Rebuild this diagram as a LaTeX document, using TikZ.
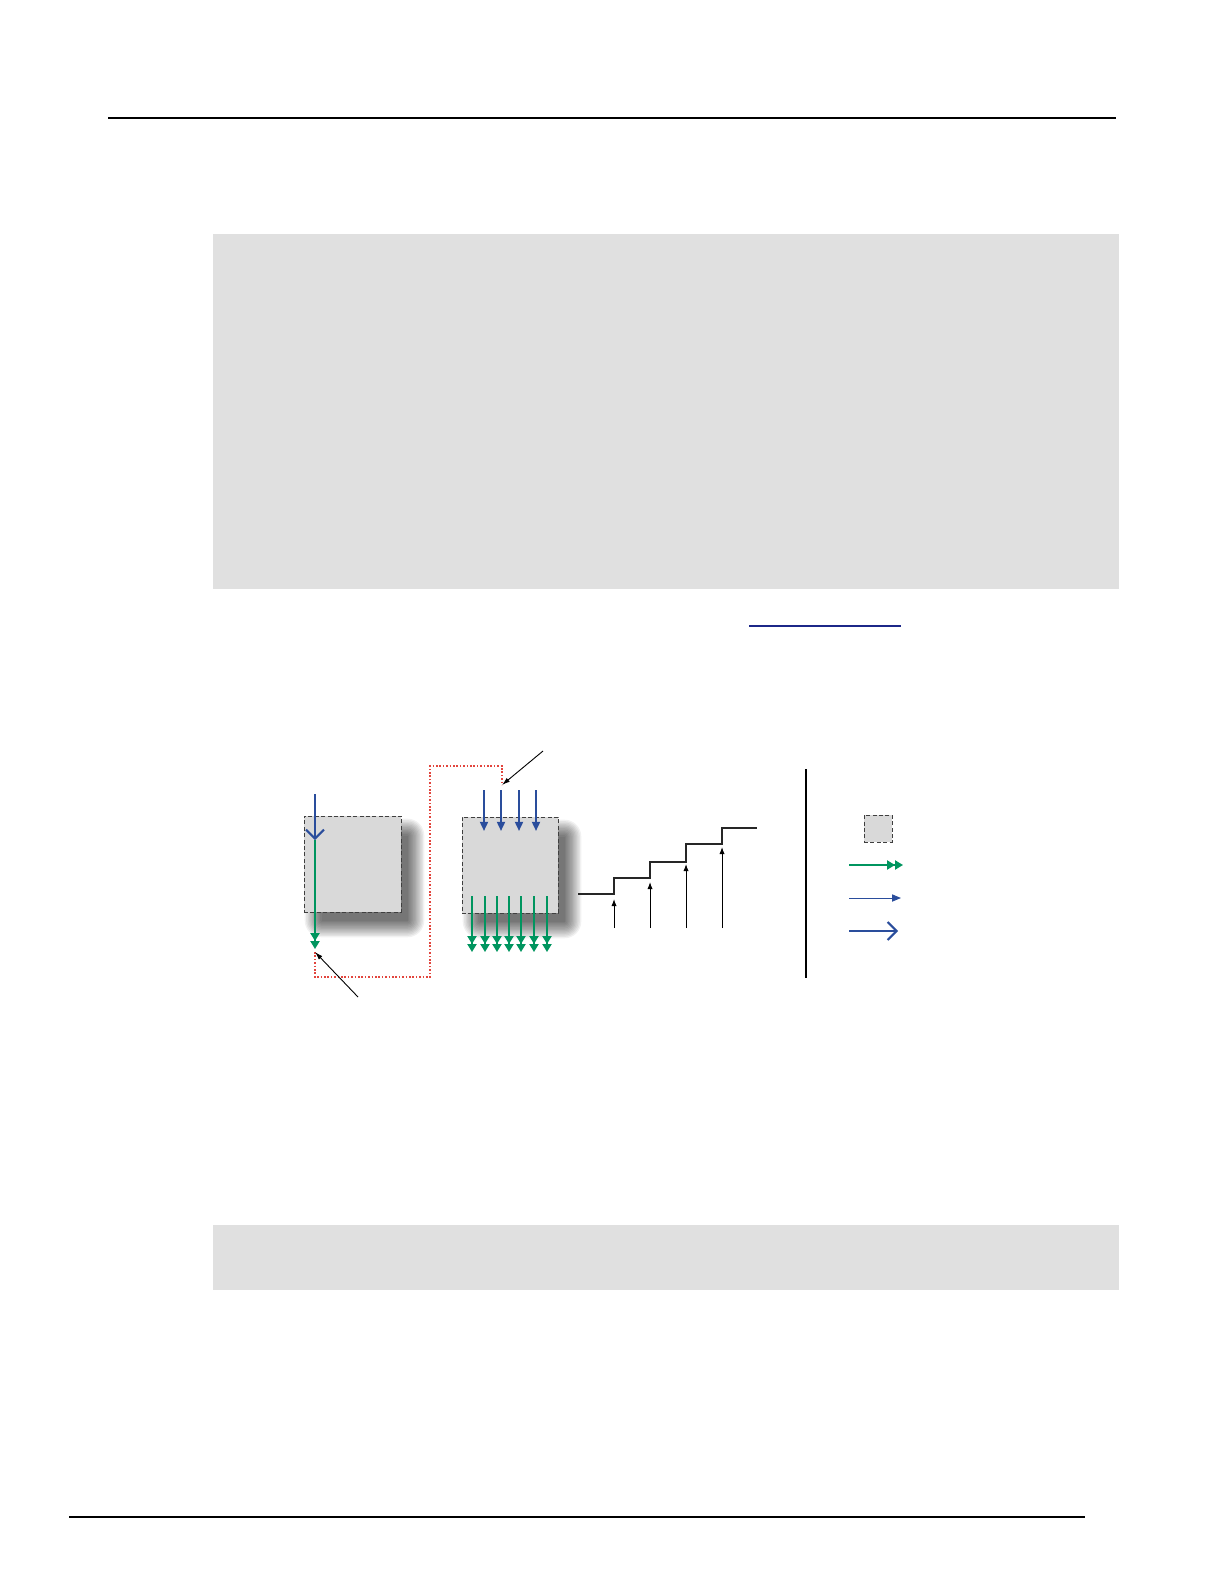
\documentclass[tikz,border=0pt]{standalone}
\usetikzlibrary{arrows.meta, positioning, calc, backgrounds}
\usepackage{xcolor}
\definecolor{blueC}{HTML}{2A4D9C}
\definecolor{greenC}{HTML}{00955F}
\definecolor{redC}{HTML}{E2453D}
\definecolor{grayC}{HTML}{3F3F3F}
\definecolor{panelC}{HTML}{E0E0E0}
\definecolor{boxC}{HTML}{D9D9D9}
\definecolor{linkC}{HTML}{1C2788}
\tikzset{
  blk/.style={rectangle, draw=grayC, dash pattern=on 2pt off 1.2pt, fill=boxC, line width=0.5pt, inner sep=0pt},
  shd/.style={fill=black, opacity=0.055},
  arwIn/.style={-{Triangle[length=4.6pt, width=4pt]}, line width=1pt, draw=blueC},
  arwOpen/.style={-{Straight Barb[length=4.5pt, width=9pt, line width=1pt]}, line width=1pt, draw=blueC},
  arwOut/.style={-{Triangle[length=4pt, width=4.6pt] Triangle[length=4pt, width=4.6pt]}, line width=0.8pt, draw=greenC},
  arwThin/.style={-{Triangle[length=4.5pt, width=3.6pt]}, line width=0.5pt, draw=blueC},
  arwTick/.style={-{Latex[length=3.5pt, width=2.6pt]}, line width=0.5pt, draw=black},
  lead/.style={-{Latex[length=4pt, width=2.4pt]}, line width=0.45pt, draw=black},
  lnk/.style={draw=redC, line width=0.85pt, dash pattern=on 0.8pt off 0.9pt},
  stair/.style={draw=black!85, line width=0.55pt},
  panel/.style={fill=panelC, draw=none}
}

\begin{document}
\begin{tikzpicture}[x=0.5pt, y=-0.5pt]
  % ── Page ──
  \useasboundingbox (0,0) rectangle (1224,1584);
  \draw[line width=0.75pt] (108,118) -- (1116,118);
  \fill[panel] (213,234) rectangle (1119,589);
  \draw[linkC, line width=0.8pt] (749,626) -- (901,626);
  \fill[panel] (213,1225) rectangle (1119,1290);
  \draw[line width=1.3pt] (69,1517) -- (1085,1517);

  % ── Blocks ──
  \node[blk, minimum width=48.5pt, minimum height=48pt] (bxL) at (352.5,864) {};
  \node[blk, minimum width=48pt, minimum height=48pt] (bxR) at (510,865) {};

  % soft shadows behind the blocks
  \begin{scope}[on background layer]
    \fill[white] (0,0) rectangle (1224,1584);
    \foreach \n in {bxL,bxR}
      \foreach \r in {0,...,12}
        \fill[shd, rounded corners=\r*0.7pt]
          ($(\n.south west)+(9pt-\r*0.7pt, -4pt-\r*0.7pt)$) rectangle
          ($(\n.north east)+(3pt+\r*0.7pt, -10pt+\r*0.7pt)$);
  \end{scope}

  % ── Left block ──
  \coordinate (inL) at (315,794);
  \coordinate (midL) at (315,840);
  \coordinate (outL) at (315,949);
  \draw[arwOut] (midL) -- (outL);
  \draw[arwOpen] (inL) -- (midL);

  % ── Right block ──
  \foreach \x in {484,501,519,536}
    \draw[arwIn] (\x,790) -- (\x,831);
  \foreach \x in {472,485,497,509,521,534,547}
    \draw[arwOut] (\x,896) -- (\x,952);

  % ── Dotted link ──
  \coordinate (lnkA) at (315,952);
  \coordinate (lnkB) at (502,785);
  \draw[lnk] (lnkA) -- (315,977) -- (430,977) -- (430,766) -- (502,766) -- (lnkB);
  \draw[lead] (543,751) -- (lnkB);
  \draw[lead] (358,997) -- (lnkA);

  % ── Staircase ──
  \draw[stair] (578,894) -- (614,894) -- (614,878) -- (650,878) -- (650,862)
    -- (686,862) -- (686,844) -- (722,844) -- (722,828) -- (757,828);
  \foreach \x/\y in {614/899, 650/882, 686/864, 722/847}
    \draw[arwTick] (\x,928) -- (\x,\y);

  % ── Legend ──
  \draw[line width=1pt] (806,769) -- (806,978);
  \node[blk, minimum width=14pt, minimum height=13.5pt] (lgBox) at (878,828.5) {};
  \draw[arwOut] (849,865) -- (903,865);
  \draw[arwThin] (849,898) -- (901,898);
  \draw[arwOpen] (849,931) -- (898,931);
\end{tikzpicture}
\end{document}
